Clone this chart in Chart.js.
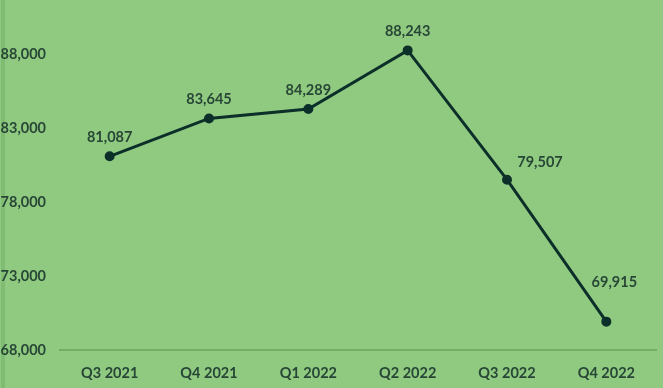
<!DOCTYPE html>
<html>
<head>
<meta charset="utf-8">
<script src="https://cdn.jsdelivr.net/npm/chart.js@4"></script>
<style>
  html, body { margin: 0; padding: 0; background: #8fca80; }
  #wrap { width: 663px; height: 388px; position: relative; }
</style>
</head>
<body>
<div id="wrap"><canvas id="myChart"></canvas></div>
<script>
var quarters = ['Q3 2021', 'Q4 2021', 'Q1 2022', 'Q2 2022', 'Q3 2022', 'Q4 2022'];
var values = [81087, 83645, 84289, 88243, 79507, 69915];
var yTicks = [68000, 73000, 78000, 83000, 88000];

var textColor = '#284636';
var lineColor = '#0c2f29';

// where each value label sits relative to its point
var labelOffsets = [[0, -19], [0, -19], [0, -19], [0, -19], [33, -17], [8, -39]];

var valueLabels = {
  id: 'valueLabels',
  beforeDraw: function(chart) {
    // darker strip down the left edge
    var c = chart.ctx;
    c.save();
    c.fillStyle = '#80bd72';
    c.fillRect(1, 0, 4, chart.height);
    c.restore();
  },
  afterDatasetsDraw: function(chart) {
    var ctx = chart.ctx;
    var meta = chart.getDatasetMeta(0);
    ctx.save();
    ctx.font = 'bold 14.5px Lato';
    ctx.fillStyle = textColor;
    ctx.textAlign = 'center';
    ctx.textBaseline = 'middle';
    meta.data.forEach(function(pt, i) {
      var off = labelOffsets[i];
      ctx.fillText(values[i].toLocaleString('en-US'), pt.x + off[0], pt.y + off[1]);
    });
    ctx.restore();
  }
};

var ctx = document.getElementById('myChart');
var myChart = new Chart(ctx, {
  type: 'line',
  data: {
    labels: quarters,
    datasets: [
      {
        data: values,
        borderColor: lineColor,
        backgroundColor: lineColor,
        borderWidth: 3,
        pointRadius: 3.5,
        tension: 0,
        clip: false
      }
    ]
  },
  options: {
    responsive: true,
    maintainAspectRatio: false,
    animation: false,
    layout: { padding: { top: 54, right: 0, left: 0, bottom: 0 } },
    plugins: {
      legend: { display: false },
      tooltip: { enabled: false }
    },
    scales: {
      x: {
        offset: true,
        grid: { display: false, drawTicks: false },
        border: { display: true, color: '#72ad66', width: 2 },
        ticks: { color: textColor, font: { family: 'Lato', size: 14.5, weight: 'bold' }, padding: 15, maxRotation: 0 },
        afterFit: function(s) { s.height = 38; }
      },
      y: {
        min: yTicks[0],
        max: yTicks[yTicks.length - 1],
        afterBuildTicks: function(s) { s.ticks = yTicks.map(function(v) { return { value: v }; }); },
        grid: { display: false, drawTicks: false },
        border: { display: false },
        ticks: {
          color: textColor,
          font: { family: 'Lato', size: 14.5, weight: 'bold' },
          padding: 14,
          callback: function(v) { return v.toLocaleString('en-US'); }
        },
        afterFit: function(s) { s.width = 60; }
      }
    }
  },
  plugins: [valueLabels]
});
</script>
</body>
</html>
